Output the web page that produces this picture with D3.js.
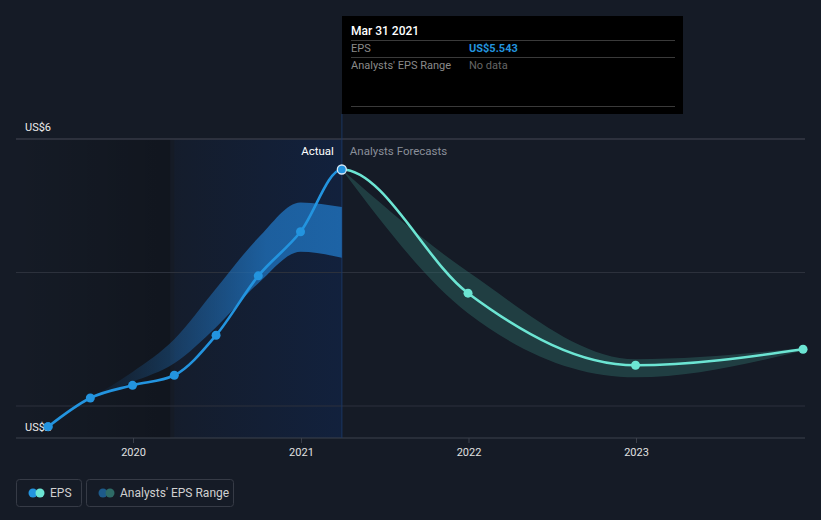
<!DOCTYPE html>
<html><head><meta charset="utf-8">
<script src="https://cdn.jsdelivr.net/npm/d3@7"></script>
<style>
html,body{margin:0;padding:0;background:#151b26;}
svg{display:block;font-family:Roboto, "Noto Sans", sans-serif;}
</style></head>
<body>
<svg id="chart" width="821" height="520"></svg>
<script>
// ---- data ----
const actualDates = ["2019-06-30","2019-09-30","2019-12-31","2020-03-31","2020-06-30","2020-09-30","2020-12-31","2021-03-31"];
const actualEPS   = [1.69, 2.12, 2.31, 2.46, 3.06, 3.95, 4.61, 5.543];
const forecastDates = ["2021-03-31","2021-12-31","2022-12-31","2023-12-31"];
const forecastEPS   = [5.543, 3.69, 2.61, 2.85];
const forecastHigh  = [5.543, 4.01, 2.70, 2.87];
const forecastLow   = [5.543, 3.39, 2.43, 2.83];
const pastRangeDates = ["2019-09-30","2019-12-31","2020-03-31","2020-06-30","2020-09-30","2020-12-31","2021-03-31"];
const pastRangeHigh  = [2.12, 2.51, 3.00, 3.76, 4.52, 5.05, 4.98];
const pastRangeLow   = [2.12, 2.36, 2.64, 3.18, 3.84, 4.31, 4.22];
const xTickYears = [2020, 2021, 2022, 2023];
const yTickValues = [2, 4, 6];
const yLabels = [{v:6, text:"US$6"}, {v:2, text:"US$2"}];
const tooltipDate = "Mar 31 2021";
const tooltipEPS = "US$5.543";
const tooltipRange = "No data";
const legendItems = ["EPS", "Analysts' EPS Range"];

// ---- setup ----
const parse = d3.utcParse("%Y-%m-%d");
const svg = d3.select("#chart");
const pLeft = 16, pRight = 805, pTop = 139, pBottom = 438;

const x = d3.scaleUtc()
  .domain([new Date(Date.UTC(2020,0,1)), new Date(Date.UTC(2023,0,1))])
  .range([133, 636]);
const y = d3.scaleLinear().domain([2, 6]).range([406, 139]);

const actual = actualDates.map((d,i)=>({d:parse(d), v:actualEPS[i]}));
const forecast = forecastDates.map((d,i)=>({d:parse(d), v:forecastEPS[i], hi:forecastHigh[i], lo:forecastLow[i]}));
const past = pastRangeDates.map((d,i)=>({d:parse(d), hi:pastRangeHigh[i], lo:pastRangeLow[i]}));
const allEPS = actual.concat(forecast.slice(1));

const nowX = x(parse("2021-03-31"));
const hlStart = x(parse("2020-03-31"));

const defs = svg.append("defs");
const gDark = defs.append("linearGradient").attr("id","gDark").attr("x1","0").attr("x2","1");
gDark.append("stop").attr("offset","0").attr("stop-color","#000").attr("stop-opacity",0);
gDark.append("stop").attr("offset","1").attr("stop-color","#000").attr("stop-opacity",0.2);
const gHl = defs.append("linearGradient").attr("id","gHl").attr("x1","0").attr("x2","1");
gHl.append("stop").attr("offset","0").attr("stop-color","#0b2f72").attr("stop-opacity",0.08);
gHl.append("stop").attr("offset","1").attr("stop-color","#0b2f72").attr("stop-opacity",0.3);
const gBand = defs.append("linearGradient").attr("id","gBand").attr("gradientUnits","userSpaceOnUse")
  .attr("x1", x(parse("2019-09-30"))).attr("x2", nowX).attr("y1",0).attr("y2",0);
gBand.append("stop").attr("offset","0").attr("stop-color","#1f6fb8").attr("stop-opacity",0);
gBand.append("stop").attr("offset","0.4").attr("stop-color","#1f6fb8").attr("stop-opacity",0.45);
gBand.append("stop").attr("offset","0.7").attr("stop-color","#1f6fb8").attr("stop-opacity",0.8);
gBand.append("stop").attr("offset","1").attr("stop-color","#1f6fb8").attr("stop-opacity",0.85);

// background regions
svg.append("rect").attr("x",pLeft).attr("y",pTop).attr("width",hlStart-pLeft-4).attr("height",pBottom-pTop).attr("fill","url(#gDark)");
svg.append("rect").attr("x",hlStart).attr("y",pTop).attr("width",nowX-hlStart).attr("height",pBottom-pTop).attr("fill","url(#gHl)");

// gridlines
svg.append("g").selectAll("line").data(yTickValues).join("line")
  .attr("x1",pLeft).attr("x2",pRight).attr("y1",d=>y(d)).attr("y2",d=>y(d))
  .attr("stroke","#2c313c").attr("stroke-width",1);
svg.append("line").attr("x1",pLeft).attr("x2",pRight).attr("y1",pTop).attr("y2",pTop).attr("stroke","#3a3f4a");

// x axis
const xAxis = d3.axisBottom(x).tickValues(xTickYears.map(yr=>new Date(Date.UTC(yr,0,1))))
  .tickFormat(d3.utcFormat("%Y")).tickSize(5).tickPadding(5);
const ax = svg.append("g").attr("transform",`translate(0,${pBottom})`).call(xAxis);
ax.select(".domain").remove();
ax.selectAll(".tick line").attr("stroke","#3a3f4a");
ax.selectAll(".tick text").attr("fill","#e0e0e0").attr("font-size",11).attr("font-family","Roboto, sans-serif");
svg.append("line").attr("x1",pLeft).attr("x2",pRight).attr("y1",pBottom).attr("y2",pBottom).attr("stroke","#3d424d");

// pointer line
svg.append("line").attr("x1",nowX).attr("x2",nowX).attr("y1",114).attr("y2",pBottom)
  .attr("stroke","#1a3868").attr("stroke-width",1.5).attr("stroke-opacity",0.6);

// past range band
const area = d3.area().x(d=>x(d.d)).y0(d=>y(d.lo)).y1(d=>y(d.hi)).curve(d3.curveMonotoneX);
svg.append("path").datum(past).attr("d",area).attr("fill","url(#gBand)");

// forecast band
svg.append("path").datum(forecast).attr("d",area).attr("fill","#2e6a66").attr("fill-opacity",0.45);

// EPS line (single monotone curve, split colour)
const line = d3.line().x(d=>x(d.d)).y(d=>y(d.v)).curve(d3.curveMonotoneX);
defs.append("clipPath").attr("id","cpL").append("rect").attr("x",0).attr("y",0).attr("width",nowX).attr("height",520);
defs.append("clipPath").attr("id","cpR").append("rect").attr("x",nowX).attr("y",0).attr("width",821-nowX).attr("height",520);
svg.append("path").datum(allEPS).attr("d",line).attr("fill","none").attr("stroke","#2394df").attr("stroke-width",2.6).attr("clip-path","url(#cpL)");
svg.append("path").datum(allEPS).attr("d",line).attr("fill","none").attr("stroke","#6ce5d3").attr("stroke-width",2.6).attr("clip-path","url(#cpR)");

svg.append("g").selectAll("circle").data(actual.slice(0,-1)).join("circle")
  .attr("cx",d=>x(d.d)).attr("cy",d=>y(d.v)).attr("r",4.5).attr("fill","#2394df");
svg.append("g").selectAll("circle").data(forecast.slice(1)).join("circle")
  .attr("cx",d=>x(d.d)).attr("cy",d=>y(d.v)).attr("r",4.5).attr("fill","#6ce5d3");
const last = actual[actual.length-1];
svg.append("circle").attr("cx",x(last.d)).attr("cy",y(last.v)).attr("r",4.5)
  .attr("fill","#2394df").attr("stroke","#d6e8f7").attr("stroke-width",1.3);

// y labels
svg.append("g").selectAll("text").data(yLabels).join("text")
  .attr("x",25).attr("y",d=> d.v===6 ? y(d.v)-8 : pBottom-7)
  .attr("fill","#ececec").attr("font-size",11).text(d=>d.text);
// redraw first point over label
const first = actual[0];
svg.append("circle").attr("cx",x(first.d)).attr("cy",y(first.v)).attr("r",4.5).attr("fill","#2394df");

// Actual / forecast labels
svg.append("text").attr("x",nowX-8).attr("y",155).attr("text-anchor","end").attr("fill","#ffffff").attr("font-size",11.5).text("Actual");
svg.append("text").attr("x",nowX+8).attr("y",155).attr("fill","#8a8f99").attr("font-size",11.5).text("Analysts Forecasts");

// tooltip
const tt = svg.append("g");
tt.append("rect").attr("x",342).attr("y",16).attr("width",341).attr("height",98).attr("fill","#000");
[40,57,106].forEach(yy=>tt.append("line").attr("x1",351).attr("x2",675).attr("y1",yy+0.5).attr("y2",yy+0.5).attr("stroke","#3a3a3a"));
tt.append("text").attr("x",351).attr("y",35).attr("fill","#fff").attr("font-size",12).attr("font-weight",500).text(tooltipDate);
tt.append("text").attr("x",351).attr("y",52).attr("fill","#8a8a8a").attr("font-size",11).text("EPS");
tt.append("text").attr("x",469).attr("y",52).attr("fill","#2394df").attr("font-size",11).attr("font-weight",700).text(tooltipEPS);
tt.append("text").attr("x",351).attr("y",69).attr("fill","#8a8a8a").attr("font-size",11).text("Analysts' EPS Range");
tt.append("text").attr("x",469).attr("y",69).attr("fill","#666").attr("font-size",11).text(tooltipRange);

// legend
const lg = svg.append("g");
const boxes = [{x:16,w:65,c1:"#2394df",c2:"#6ce5d3"},{x:86,w:147,c1:"#1d5a8a",c2:"#2e6b66"}];
boxes.forEach((b,i)=>{
  lg.append("rect").attr("x",b.x+0.5).attr("y",479.5).attr("width",b.w).attr("height",27).attr("rx",3)
    .attr("fill","none").attr("stroke","#363b46");
  lg.append("circle").attr("cx",b.x+17).attr("cy",493).attr("r",4.5).attr("fill",b.c1);
  lg.append("circle").attr("cx",b.x+24).attr("cy",493).attr("r",4.5).attr("fill",b.c2);
  lg.append("text").attr("x",b.x+34).attr("y",497).attr("fill","#d0d0d0").attr("font-size",12).text(legendItems[i]);
});
</script>
</body></html>
